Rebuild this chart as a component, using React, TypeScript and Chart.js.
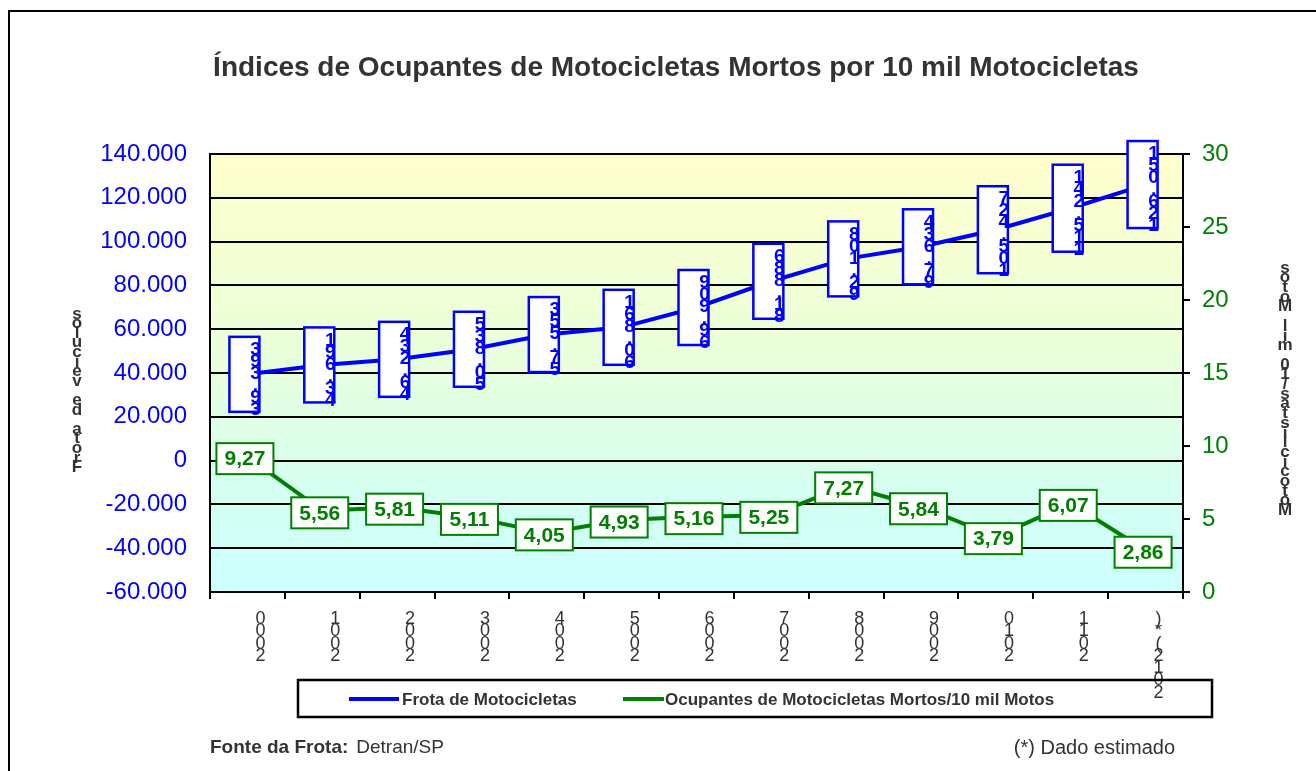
import React, { useEffect, useRef } from "react";
import { Chart, registerables } from "chart.js";

Chart.register(...registerables);

const years = ["2000", "2001", "2002", "2003", "2004", "2005", "2006", "2007", "2008", "2009", "2010", "2011", "2012(*)"];
const frota = [39393, 43691, 46234, 50835, 57553, 60861, 69909, 81886, 92108, 97634, 105427, 115241, 126051];
const mortos = [9.27, 5.56, 5.81, 5.11, 4.05, 4.93, 5.16, 5.25, 7.27, 5.84, 3.79, 6.07, 2.86];

const TITLE = "Índices de Ocupantes de Motocicletas Mortos por 10 mil Motocicletas";
const LEFT_TITLE = "Frota de veículos";
const RIGHT_TITLE = "Motociclistas/10 mil Motos";
const SERIES_A = "Frota de Motocicletas";
const SERIES_B = "Ocupantes de Motocicletas Mortos/10 mil Motos";

const BLUE = "#0000FF";
const GREEN = "#008000";
const GRAY = "#333333";
const FONT = "Arial, 'Liberation Sans', sans-serif";

function fmtThousands(v: number): string {
  const neg = v < 0;
  const s = Math.round(Math.abs(v)).toString().replace(/\B(?=(\d{3})+(?!\d))/g, ".");
  return (neg ? "-" : "") + s;
}

function stacked(ctx: CanvasRenderingContext2D, text: string, x: number, yTop: number, step: number) {
  const chars = text.split("").reverse();
  chars.forEach((c, i) => {
    ctx.fillText(c, x, yTop + i * step);
  });
}

const decorPlugin = {
  id: "decor",
  beforeDraw(chart: any) {
    const { ctx, chartArea } = chart;
    const { left, top, right, bottom } = chartArea;
    ctx.save();
    const g = ctx.createLinearGradient(0, top, 0, bottom);
    g.addColorStop(0, "#FFFFCC");
    g.addColorStop(0.45, "#EAFFDA");
    g.addColorStop(0.75, "#D6FFF0");
    g.addColorStop(1, "#CCFFFF");
    ctx.fillStyle = g;
    ctx.fillRect(left, top, right - left, bottom - top);
    ctx.restore();
  },
  afterDraw(chart: any) {
    const { ctx } = chart;
    ctx.save();
    ctx.strokeStyle = "#000";
    ctx.lineWidth = 2;
    ctx.strokeRect(9, 11, 1400, 1000);

    ctx.fillStyle = GRAY;
    ctx.font = `bold 28px ${FONT}`;
    ctx.textAlign = "center";
    ctx.textBaseline = "middle";
    ctx.fillText(TITLE, 676, 68);

    ctx.font = `bold 17px ${FONT}`;
    ctx.fillStyle = GRAY;
    stacked(ctx, LEFT_TITLE, 77, 314, 9.6);
    stacked(ctx, RIGHT_TITLE, 1285, 268, 9.7);

    const xs = chart.scales.x;
    ctx.font = `18px ${FONT}`;
    ctx.fillStyle = GRAY;
    years.forEach((y, i) => {
      const px = xs.getPixelForValue(i);
      stacked(ctx, y, px + 13, 619, 12.3);
    });

    ctx.strokeStyle = "#000";
    ctx.lineWidth = 2.5;
    ctx.strokeRect(298, 680, 914, 37);
    ctx.lineWidth = 4;
    ctx.strokeStyle = BLUE;
    ctx.beginPath();
    ctx.moveTo(349, 699);
    ctx.lineTo(399, 699);
    ctx.stroke();
    ctx.strokeStyle = GREEN;
    ctx.beginPath();
    ctx.moveTo(623, 699);
    ctx.lineTo(664, 699);
    ctx.stroke();
    ctx.fillStyle = GRAY;
    ctx.font = `bold 17px ${FONT}`;
    ctx.textAlign = "left";
    ctx.fillText(SERIES_A, 402, 700);
    ctx.fillText(SERIES_B, 665, 700);

    ctx.font = `bold 19px ${FONT}`;
    ctx.fillText("Fonte da Frota:", 210, 748);
    const w = ctx.measureText("Fonte da Frota:").width;
    ctx.font = `19px ${FONT}`;
    ctx.fillText("Detran/SP", 210 + w + 8, 748);
    ctx.textAlign = "right";
    ctx.font = `20px ${FONT}`;
    ctx.fillText("(*) Dado estimado", 1175, 748);
    ctx.restore();
  },
  afterDatasetsDraw(chart: any) {
    const { ctx } = chart;
    ctx.save();
    const m0 = chart.getDatasetMeta(0);
    m0.data.forEach((pt: any, i: number) => {
      const txt = fmtThousands(frota[i]);
      const n = txt.length;
      const h = n * 12 + 3;
      const bx = pt.x - 18;
      const by = pt.y - h / 2;
      ctx.fillStyle = "#FFFFFF";
      ctx.fillRect(bx, by, 30, h);
      ctx.strokeStyle = BLUE;
      ctx.lineWidth = 2.5;
      ctx.strokeRect(bx, by, 30, h);
      ctx.fillStyle = BLUE;
      ctx.font = `bold 19px ${FONT}`;
      ctx.textAlign = "center";
      ctx.textBaseline = "middle";
      stacked(ctx, txt, pt.x + 8, by + 13, 12);
    });
    const m1 = chart.getDatasetMeta(1);
    m1.data.forEach((pt: any, i: number) => {
      const txt = mortos[i].toFixed(2).replace(".", ",");
      const w = 57;
      const h = 31;
      const bx = pt.x - 31;
      const by = pt.y - h / 2 + 2;
      ctx.fillStyle = "#FFFFFF";
      ctx.fillRect(bx, by, w, h);
      ctx.strokeStyle = GREEN;
      ctx.lineWidth = 2;
      ctx.strokeRect(bx, by, w, h);
      ctx.fillStyle = GREEN;
      ctx.font = `bold 21px ${FONT}`;
      ctx.textAlign = "center";
      ctx.textBaseline = "middle";
      ctx.fillText(txt, bx + w / 2, by + h / 2 + 1);
    });
    ctx.restore();
  },
};

export default function App() {
  const ref = useRef<HTMLCanvasElement>(null);
  useEffect(() => {
    if (!ref.current) return;
    const chart = new Chart(ref.current, {
      type: "line",
      data: {
        labels: years,
        datasets: [
          {
            label: SERIES_A,
            data: frota,
            borderColor: BLUE,
            borderWidth: 4,
            pointRadius: 0,
            yAxisID: "y",
            tension: 0,
          },
          {
            label: SERIES_B,
            data: mortos,
            borderColor: GREEN,
            borderWidth: 4,
            pointRadius: 0,
            yAxisID: "y1",
            tension: 0,
          },
        ],
      },
      options: {
        responsive: false,
        animation: false,
        layout: { padding: { top: 154, left: 0, right: 0, bottom: 0 } },
        plugins: { legend: { display: false }, title: { display: false }, tooltip: { enabled: false } },
        scales: {
          x: {
            type: "category",
            offset: true,
            grid: { offset: true, drawOnChartArea: false, drawTicks: true, tickLength: 7, color: "#000", lineWidth: 2 },
            border: { display: true, color: "#000", width: 2 },
            ticks: { display: false },
            afterFit: (s: any) => {
              s.height = 179;
            },
          },
          y: {
            position: "left",
            min: -60000,
            max: 140000,
            grid: { color: "#000", lineWidth: 2, drawTicks: false },
            border: { display: true, color: "#000", width: 2 },
            ticks: {
              stepSize: 20000,
              color: BLUE,
              font: { family: FONT, size: 24 },
              padding: 23,
              callback: (v: any) => fmtThousands(Number(v)),
            },
            afterFit: (s: any) => {
              s.width = 210;
            },
          },
          y1: {
            position: "right",
            min: 0,
            max: 30,
            grid: { drawOnChartArea: false, drawTicks: true, tickLength: 7, color: "#000", lineWidth: 2 },
            border: { display: true, color: "#000", width: 2 },
            ticks: {
              stepSize: 5,
              color: GREEN,
              font: { family: FONT, size: 24 },
              padding: 12,
            },
            afterFit: (s: any) => {
              s.width = 133;
            },
          },
        },
      },
      plugins: [decorPlugin],
    } as any);
    return () => chart.destroy();
  }, []);
  return (
    <div style={{ position: "absolute", left: 0, top: 0, width: 1316, height: 771, background: "#fff" }}>
      <canvas ref={ref} width={1316} height={771} style={{ display: "block", width: 1316, height: 771 }} />
    </div>
  );
}
